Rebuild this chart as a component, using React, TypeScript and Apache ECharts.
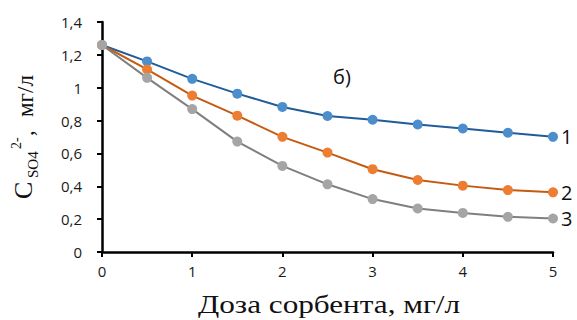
import React, { useEffect, useRef } from "react";
import * as echarts from "echarts";

const doses = [0, 0.5, 1, 1.5, 2, 2.5, 3, 3.5, 4, 4.5, 5];
const series1 = [1.26, 1.16, 1.054, 0.964, 0.883, 0.828, 0.805, 0.776, 0.752, 0.726, 0.701];
const series2 = [1.26, 1.111, 0.952, 0.83, 0.701, 0.605, 0.504, 0.438, 0.404, 0.377, 0.363];
const series3 = [1.26, 1.06, 0.87, 0.672, 0.524, 0.412, 0.322, 0.265, 0.238, 0.214, 0.204];
const seriesNames = ["1", "2", "3"];
const xTitle = "Доза сорбента, мг/л";

export default function App() {
  const ref = useRef<HTMLDivElement>(null);
  useEffect(() => {
    if (!ref.current) return;
    document.body.style.margin = "0";
    const chart = echarts.init(ref.current, undefined, { renderer: "svg" });
    const mk = (name: string, vals: number[], marker: string, line: string) => ({
      type: "line",
      name,
      data: doses.map((d, i) => [d, vals[i]]),
      symbol: "circle",
      symbolSize: 10,
      itemStyle: { color: marker, borderColor: marker, borderWidth: 0 },
      lineStyle: { color: line, width: 2 },
      endLabel: {
        show: true,
        formatter: name,
        distance: 8,
        fontFamily: "Open Sans",
        fontSize: 20,
        color: "#111",
      },
      emphasis: { disabled: true },
    });
    const serif = "Liberation Serif";
    chart.setOption({
      animation: false,
      grid: { left: 102, right: 24, top: 22, bottom: 68, outerBoundsMode: "none" },
      xAxis: {
        type: "value",
        min: 0,
        max: 5,
        interval: 1,
        axisLine: { lineStyle: { color: "#000", width: 2.5 } },
        axisTick: { show: true, length: 5, lineStyle: { color: "#000", width: 2 } },
        splitLine: { show: false },
        axisLabel: { fontFamily: "Open Sans", fontSize: 15, fontWeight: 500, color: "#1a1a1a", margin: 11 },
      },
      yAxis: {
        type: "value",
        min: 0,
        max: 1.4,
        interval: 0.2,
        axisLine: { show: true, lineStyle: { color: "#000", width: 2.5 } },
        axisTick: { show: true, length: 5, lineStyle: { color: "#000", width: 2 } },
        splitLine: { show: false },
        axisLabel: {
          fontFamily: "Open Sans",
          fontSize: 15,
          fontWeight: 500,
          color: "#1a1a1a",
          margin: 20,
          formatter: (v: number) => String(Math.round(v * 10) / 10).replace(".", ","),
        },
      },
      series: [
        mk(seriesNames[0], series1, "#4C8DCC", "#1F5C99"),
        mk(seriesNames[1], series2, "#ED7D31", "#C55A11"),
        mk(seriesNames[2], series3, "#A5A5A5", "#7F7F7F"),
      ],
      graphic: [
        {
          type: "text",
          left: 333,
          top: 66,
          style: { text: "б)", fontFamily: "Open Sans", fontSize: 20, fill: "#111" },
        },
        {
          type: "text",
          x: 329,
          y: 304,
          scaleX: 1.2,
          style: { text: xTitle, fontFamily: serif, fontSize: 26, fill: "#111", align: "center", verticalAlign: "middle" },
        },
        {
          type: "group",
          x: 33,
          y: 199,
          rotation: Math.PI / 2,
          children: [
            { type: "text", x: 0, y: -9.5, style: { text: "C", fontFamily: serif, fontSize: 26, fill: "#111", align: "left", verticalAlign: "middle" } },
            { type: "text", x: 21, y: -0.5, style: { text: "SO4", fontFamily: serif, fontSize: 15, fill: "#111", align: "left", verticalAlign: "middle" } },
            { type: "text", x: 50, y: -17, style: { text: "2-", fontFamily: serif, fontSize: 14, fill: "#111", align: "left", verticalAlign: "middle" } },
            { type: "text", x: 63, y: -8, style: { text: ",", fontFamily: serif, fontSize: 23, fill: "#111", align: "left", verticalAlign: "middle" } },
            { type: "text", x: 82, y: -8, style: { text: "мг/л", fontFamily: serif, fontSize: 23, fill: "#111", align: "left", verticalAlign: "middle" } },
          ],
        },
      ],
    });
    return () => chart.dispose();
  }, []);
  return <div ref={ref} style={{ width: 577, height: 320 }} />;
}
